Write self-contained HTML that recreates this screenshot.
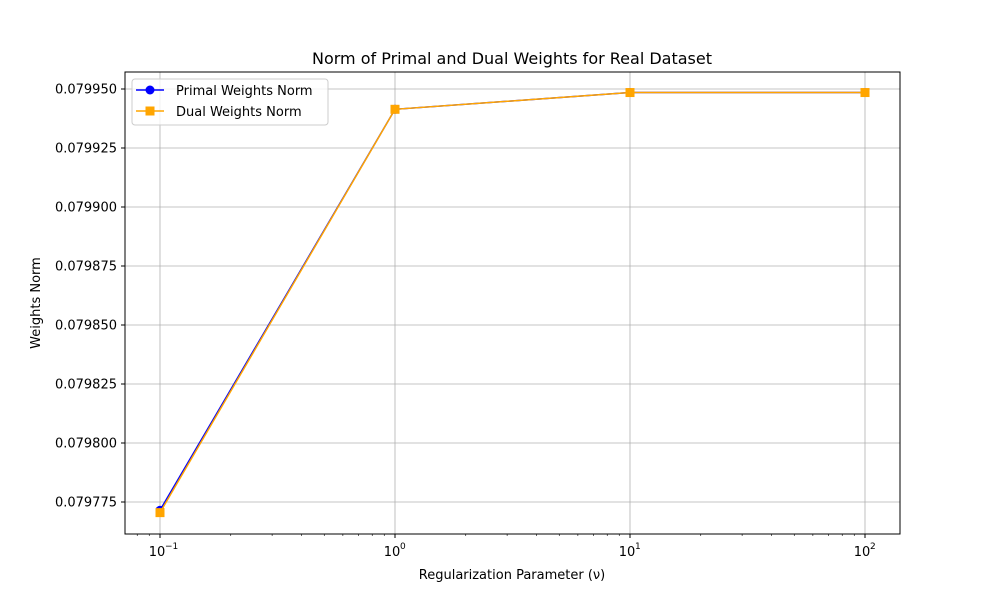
<!DOCTYPE html>
<html><head><meta charset="utf-8"><style>
body{margin:0;background:#fff;font-family:"Liberation Sans","DejaVu Sans",sans-serif}
</style></head><body>
<svg width="1000" height="600" xmlns="http://www.w3.org/2000/svg" font-family="'DejaVu Sans','Liberation Sans',sans-serif">
<rect width="1000" height="600" fill="#fff"/>
<g id="grid"></g>
<g id="series"></g>
<rect x="125" y="72" width="775" height="462" fill="none" stroke="#000" stroke-width="1"/>
<g id="ticks"></g>
<text x="512" y="64" font-size="16" text-anchor="middle">Norm of Primal and Dual Weights for Real Dataset</text>
<text x="512" y="579" font-size="13" text-anchor="middle">Regularization Parameter (ν)</text>
<text transform="translate(40,303) rotate(-90)" font-size="13" text-anchor="middle">Weights Norm</text>
<g>
<rect x="132" y="79" width="196" height="46" fill="#fff" fill-opacity="0.8" stroke="#ccc" rx="3"/>
<g><line x1="136" y1="90" x2="164" y2="90" stroke="blue" stroke-width="1.5"/><circle cx="150" cy="90" r="4.5" fill="blue"/><text x="176" y="95" font-size="13">Primal Weights Norm</text></g>
<g><line x1="136" y1="111" x2="164" y2="111" stroke="orange" stroke-width="1.5"/><rect x="145.5" y="106.5" width="9" height="9" fill="orange"/><text x="176" y="116" font-size="13">Dual Weights Norm</text></g>
</g>
</svg>
<script>
const xValues=[0.1,1,10,100];
const primal=[0.0797715,0.0799414,0.0799485,0.0799485];
const dual=[0.0797705,0.0799414,0.0799485,0.0799485];
const yTicks=[0.079775,0.079800,0.079825,0.079850,0.079875,0.079900,0.079925,0.079950];
const xTickExps=[-1,0,1,2];
const NS="http://www.w3.org/2000/svg";
const X=v=>395+235*Math.log10(v);
const Y=v=>89+(0.079950-v)/0.000025*59;
function mk(t,a,p){const e=document.createElementNS(NS,t);for(const k in a)e.setAttribute(k,a[k]);p.appendChild(e);return e;}
const grid=document.getElementById('grid'),ticks=document.getElementById('ticks'),series=document.getElementById('series');
yTicks.forEach(v=>{const y=Y(v);
const g=mk('line',{x1:125,x2:900,y1:y,y2:y,stroke:'#b0b0b0','stroke-width':0.8},grid);


mk('line',{x1:121,x2:125,y1:y,y2:y,stroke:'#000'},ticks);
const t=mk('text',{x:117,y:y+4.5,'font-size':13,'text-anchor':'end'},ticks);t.textContent=v.toFixed(6);

});
xTickExps.forEach(e=>{const x=X(Math.pow(10,e));
const g=mk('line',{x1:x,x2:x,y1:72,y2:534,stroke:'#b0b0b0','stroke-width':0.8},grid);


mk('line',{x1:x,x2:x,y1:534,y2:538,stroke:'#000'},ticks);
const t=mk('text',{x:x-3,y:556,'font-size':13,'text-anchor':'middle'},ticks);t.textContent='10';


const s=mk('text',{x:x+5,y:549,'font-size':9,'text-anchor':'start'},ticks);s.textContent=e<0?'−'+(-e):String(e);});
for(let e=-2;e<=2;e++)for(let m=2;m<10;m++){const x=X(m*Math.pow(10,e));if(x>125&&x<900)mk('line',{x1:x,x2:x,y1:534,y2:536,stroke:'#000','stroke-width':0.6},ticks);}
function draw(vals,color,marker,name){
const pl=mk('polyline',{points:vals.map((v,i)=>X(xValues[i])+','+Y(v)).join(' '),fill:'none',stroke:color,'stroke-width':1.5},series);


vals.forEach((v,i)=>{let m;
if(marker==='o')m=mk('circle',{cx:X(xValues[i]),cy:Y(v),r:4.5,fill:color},series);
else m=mk('rect',{x:X(xValues[i])-4.5,y:Y(v)-4.5,width:9,height:9,fill:color},series);

});}
draw(primal,'blue','o','primal');
draw(dual,'orange','s','dual');
</script>
</body></html>
